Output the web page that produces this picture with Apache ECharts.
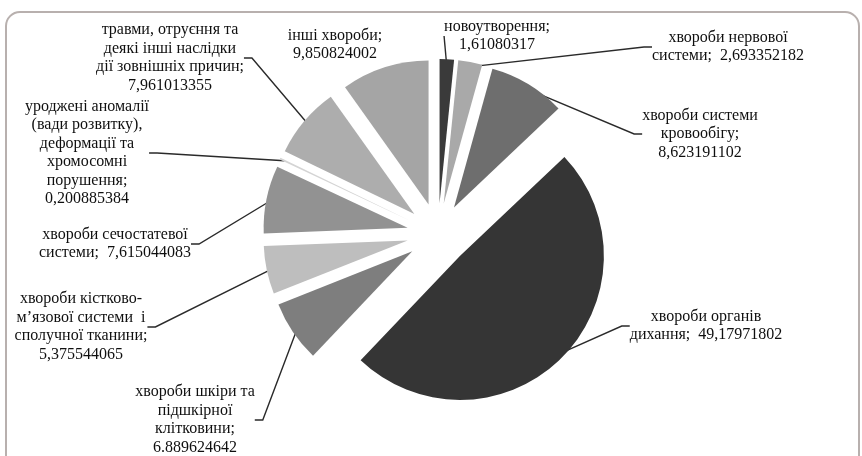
<!DOCTYPE html>
<html>
<head>
<meta charset="utf-8">
<script src="https://cdn.jsdelivr.net/npm/echarts@6/dist/echarts.min.js"></script>
<style>
html,body{margin:0;padding:0;background:#fff;}
#chart{width:862px;height:456px;}
</style>
</head>
<body>
<div id="chart"></div>
<script>
// ---- data ----
const categories = [
  'новоутворення;',
  'хвороби нервової\nсистеми;  ',
  'хвороби системи\nкровообігу;\n',
  'хвороби органів\nдихання;  ',
  'хвороби шкіри та\nпідшкірної\nклітковини;\n',
  'хвороби кістково-\nм’язової системи  і\nсполучної тканини;\n',
  'хвороби сечостатевої\nсистеми;  ',
  'уроджені аномалії\n(вади розвитку),\nдеформації та\nхромосомні\nпорушення;\n',
  'травми, отруєння та\nдеякі інші наслідки\nдії зовнішніх причин;\n',
  'інші хвороби;\n'
];
const values = [1.61080317, 2.693352182, 8.623191102, 49.17971802, 6.889624642,
                5.375544065, 7.615044083, 0.200885384, 7.961013355, 9.850824002];
const decimalMarks = [',', ',', ',', ',', '.', ',', ',', ',', ',', ','];

// ---- styles / layout (not data) ----
const colors = ['#3a3a3a', '#a9a9a9', '#6e6e6e', '#353535', '#7e7e7e',
                '#bebebe', '#929292', '#d4d4d4', '#adadad', '#a5a5a5'];
const labelCenters = [
  [497, 36], [728, 47], [700, 134], [706, 326], [195, 420],
  [81, 327], [115, 244], [87, 153], [170, 58], [335, 45]
];
const showLeader = [true, true, true, true, true, true, true, true, true, false];

const chart = echarts.init(document.getElementById('chart'), null, {renderer: 'canvas'});

function fmt(i) {
  const name = categories[i];
  const v = String(values[i]).replace('.', decimalMarks[i]);
  const sep = name.endsWith('\n') || name.endsWith('  ') ? '' : '\n';
  return name + sep + v;
}

const pieCenter = [438, 234];

chart.setOption({
  animation: false,
  backgroundColor: '#ffffff',
  graphic: [{
    type: 'rect',
    shape: { x: 6, y: 12, width: 853, height: 470, r: 14 },
    style: { fill: 'none', stroke: '#b8b0ae', lineWidth: 2 },
    silent: true,
    z: -10
  }],
  series: [{
    // exploded slices
    type: 'pie',
    center: pieCenter,
    radius: 144,
    startAngle: 90,
    clockwise: true,
    selectedMode: 'multiple',
    selectedOffset: 31,
    avoidLabelOverlap: false,
    silent: true,
    data: values.map((v, i) => ({
      value: v, name: String(i), selected: true, itemStyle: { color: colors[i] }
    })),
    itemStyle: { borderWidth: 0 },
    label: { show: false },
    labelLine: { show: false }
  }, {
    // invisible ring carrying the labels and leader lines
    type: 'pie',
    center: pieCenter,
    radius: 170,
    startAngle: 90,
    clockwise: true,
    silent: true,
    avoidLabelOverlap: false,
    data: values.map((v, i) => ({
      value: v, name: 'l' + i, labelLine: { show: showLeader[i] }
    })),
    itemStyle: { color: 'rgba(0,0,0,0)', borderWidth: 0 },
    label: {
      show: true,
      formatter: p => fmt(p.dataIndex),
      fontFamily: '"Liberation Serif", "DejaVu Serif", serif',
      fontSize: 16,
      lineHeight: 18.5,
      color: '#0f0f0f',
      align: 'center'
    },
    labelLine: {
      show: true,
      length: 10,
      length2: 8,
      lineStyle: { color: '#2a2a2a', width: 1.4 }
    },
    labelLayout: params => {
      const c = labelCenters[params.dataIndex];
      return { x: c[0], y: c[1], align: 'center', verticalAlign: 'middle' };
    }
  }]
});
</script>
</body>
</html>
